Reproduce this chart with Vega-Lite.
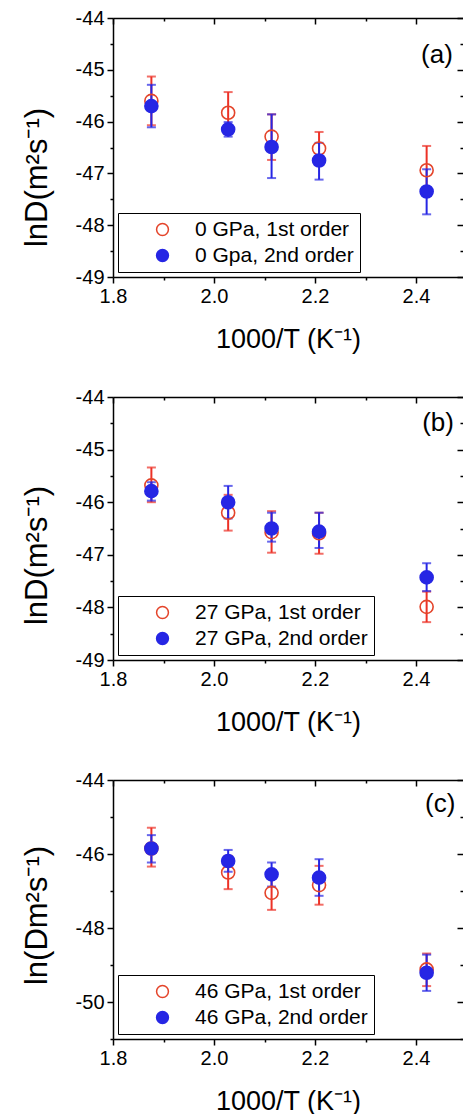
{
  "$schema": "https://vega.github.io/schema/vega-lite/v6.json",
  "background": "white",
  "padding": {"left": 21, "top": 8, "right": 0, "bottom": 0},
  "spacing": 35,
  "config": {
    "font": "Liberation Sans",
    "view": {"stroke": null},
    "axis": {"grid": false, "domainColor": "black", "tickColor": "black", "labelColor": "black", "titleColor": "black", "domainWidth": 1.5, "tickWidth": 1.5, "labelFont": "Liberation Sans", "titleFont": "Liberation Sans", "titleFontWeight": "normal", "labelFlush": false, "labelOverlap": false},
    "legend": {"labelFont": "Liberation Sans", "labelLimit": 400}
  },
  "datasets": {
    "a": [
      {"x": 1.876, "y": -45.60, "lo": -46.07, "hi": -45.13, "series": "0 GPa, 1st order"},
      {"x": 2.028, "y": -45.83, "lo": -46.24, "hi": -45.43, "series": "0 GPa, 1st order"},
      {"x": 2.114, "y": -46.29, "lo": -46.74, "hi": -45.86, "series": "0 GPa, 1st order"},
      {"x": 2.208, "y": -46.52, "lo": -46.84, "hi": -46.20, "series": "0 GPa, 1st order"},
      {"x": 2.421, "y": -46.94, "lo": -47.41, "hi": -46.47, "series": "0 GPa, 1st order"},
      {"x": 1.876, "y": -45.70, "lo": -46.11, "hi": -45.29, "series": "0 Gpa, 2nd order"},
      {"x": 2.028, "y": -46.15, "lo": -46.29, "hi": -46.01, "series": "0 Gpa, 2nd order"},
      {"x": 2.114, "y": -46.49, "lo": -47.09, "hi": -45.86, "series": "0 Gpa, 2nd order"},
      {"x": 2.208, "y": -46.75, "lo": -47.12, "hi": -46.41, "series": "0 Gpa, 2nd order"},
      {"x": 2.421, "y": -47.35, "lo": -47.79, "hi": -46.92, "series": "0 Gpa, 2nd order"}
    ],
    "b": [
      {"x": 1.876, "y": -45.68, "lo": -46.00, "hi": -45.34, "series": "27 GPa, 1st order"},
      {"x": 2.028, "y": -46.20, "lo": -46.54, "hi": -45.86, "series": "27 GPa, 1st order"},
      {"x": 2.114, "y": -46.57, "lo": -46.96, "hi": -46.17, "series": "27 GPa, 1st order"},
      {"x": 2.208, "y": -46.59, "lo": -46.98, "hi": -46.20, "series": "27 GPa, 1st order"},
      {"x": 2.421, "y": -47.99, "lo": -48.28, "hi": -47.70, "series": "27 GPa, 1st order"},
      {"x": 1.876, "y": -45.79, "lo": -45.97, "hi": -45.62, "series": "27 GPa, 2nd order"},
      {"x": 2.028, "y": -46.00, "lo": -46.31, "hi": -45.69, "series": "27 GPa, 2nd order"},
      {"x": 2.114, "y": -46.50, "lo": -46.75, "hi": -46.20, "series": "27 GPa, 2nd order"},
      {"x": 2.208, "y": -46.56, "lo": -46.87, "hi": -46.20, "series": "27 GPa, 2nd order"},
      {"x": 2.421, "y": -47.43, "lo": -47.69, "hi": -47.16, "series": "27 GPa, 2nd order"}
    ],
    "c": [
      {"x": 1.876, "y": -45.85, "lo": -46.34, "hi": -45.29, "series": "46 GPa, 1st order"},
      {"x": 2.028, "y": -46.50, "lo": -46.95, "hi": -46.05, "series": "46 GPa, 1st order"},
      {"x": 2.114, "y": -47.05, "lo": -47.51, "hi": -46.59, "series": "46 GPa, 1st order"},
      {"x": 2.208, "y": -46.84, "lo": -47.37, "hi": -46.32, "series": "46 GPa, 1st order"},
      {"x": 2.421, "y": -49.12, "lo": -49.57, "hi": -48.69, "series": "46 GPa, 1st order"},
      {"x": 1.876, "y": -45.85, "lo": -46.23, "hi": -45.49, "series": "46 GPa, 2nd order"},
      {"x": 2.028, "y": -46.19, "lo": -46.48, "hi": -45.89, "series": "46 GPa, 2nd order"},
      {"x": 2.114, "y": -46.55, "lo": -46.88, "hi": -46.23, "series": "46 GPa, 2nd order"},
      {"x": 2.208, "y": -46.64, "lo": -47.13, "hi": -46.14, "series": "46 GPa, 2nd order"},
      {"x": 2.421, "y": -49.21, "lo": -49.70, "hi": -48.72, "series": "46 GPa, 2nd order"}
    ],
    "one": [{}]
  },
  "resolve": {
    "scale": {"x": "independent", "y": "independent", "fill": "independent", "stroke": "independent"},
    "legend": {"fill": "independent", "stroke": "independent"}
  },
  "vconcat": [
    {
      "width": 350, "height": 259,
      "data": {"name": "a"},
      "resolve": {"axis": {"x": "independent", "y": "independent"}},
      "layer": [
        {
          "transform": [{"filter": "indexof(datum.series, '1st') >= 0"}],
          "mark": {"type": "errorbar", "ticks": {"size": 9}, "thickness": 2, "color": "#ec3126"},
          "encoding": {
            "x": {"field": "x", "type": "quantitative", "scale": {"domain": [1.8, 2.493], "nice": false, "zero": false},
              "axis": {"orient": "bottom", "values": [1.8, 1.9, 2.0, 2.1, 2.2, 2.3, 2.4], "labelExpr": "round(datum.value*10)%2==0 ? format(datum.value,'.1f') : ''", "tickSize": {"condition": {"test": "round(datum.value*10)%2==0", "value": 6}, "value": 3}, "labelFontSize": 20, "labelPadding": 3, "title": "1000/T (K⁻¹)", "titleFontSize": 27, "titlePadding": 20}},
            "y": {"field": "lo", "type": "quantitative", "scale": {"domain": [-49, -44], "nice": false, "zero": false},
              "axis": {"orient": "left", "values": [-49, -48.5, -48, -47.5, -47, -46.5, -46, -45.5, -45, -44.5, -44], "labelExpr": "datum.value % 1 == 0 ? '' + datum.value : ''", "tickSize": {"condition": {"test": "datum.value % 1 == 0", "value": 6}, "value": 3}, "labelFontSize": 20, "labelPadding": 3, "title": "lnD(m²s⁻¹)", "titleFontSize": 31, "titlePadding": 22, "titleY": 159}},
            "y2": {"field": "hi"}
          }
        },
        {
          "transform": [{"filter": "indexof(datum.series, '2nd') >= 0"}],
          "mark": {"type": "errorbar", "ticks": {"size": 9}, "thickness": 2, "color": "#2626e4"},
          "encoding": {
            "x": {"field": "x", "type": "quantitative", "scale": {"domain": [1.8, 2.493], "nice": false, "zero": false}, "axis": null},
            "y": {"field": "lo", "type": "quantitative", "scale": {"domain": [-49, -44], "nice": false, "zero": false}, "axis": null},
            "y2": {"field": "hi"}
          }
        },
        {
          "mark": {"type": "point", "shape": "circle", "size": 170, "strokeWidth": 1.6, "opacity": 1},
          "encoding": {
            "x": {"field": "x", "type": "quantitative", "scale": {"domain": [1.8, 2.493], "nice": false, "zero": false},
              "axis": {"orient": "top", "values": [1.8, 1.9, 2.0, 2.1, 2.2, 2.3, 2.4], "labels": false, "title": null, "tickSize": {"condition": {"test": "round(datum.value*10)%2==0", "value": -6}, "value": -3}}},
            "y": {"field": "y", "type": "quantitative", "scale": {"domain": [-49, -44], "nice": false, "zero": false},
              "axis": {"orient": "right", "values": [-49, -48.5, -48, -47.5, -47, -46.5, -46, -45.5, -45, -44.5, -44], "labels": false, "title": null, "domain": false, "tickSize": {"condition": {"test": "datum.value % 1 == 0", "value": -6}, "value": -3}}},
            "fill": {"field": "series", "type": "nominal", "scale": {"domain": ["0 GPa, 1st order", "0 Gpa, 2nd order"], "range": ["transparent", "#2626e4"]},
              "legend": {"title": null, "orient": "bottom-left", "offset": 5, "strokeColor": "black", "fillColor": "white", "padding": 6, "symbolOffset": 28, "labelOffset": 22, "labelFontSize": 21, "labelColor": "black", "symbolSize": 140, "rowPadding": 4, "symbolStrokeWidth": 1.5, "labelLimit": 400}},
            "stroke": {"field": "series", "type": "nominal", "scale": {"domain": ["0 GPa, 1st order", "0 Gpa, 2nd order"], "range": ["#e4442a", "#2626e4"]},
              "legend": {"title": null, "orient": "bottom-left", "offset": 5, "strokeColor": "black", "fillColor": "white", "padding": 6, "symbolOffset": 28, "labelOffset": 22, "labelFontSize": 21, "labelColor": "black", "symbolSize": 140, "rowPadding": 4, "symbolStrokeWidth": 1.5, "labelLimit": 400}}
          }
        },
        {
          "data": {"name": "one"},
          "mark": {"type": "text", "text": "(a)", "align": "right", "baseline": "middle", "fontSize": 26, "fontWeight": "normal", "color": "black"},
          "encoding": {
            "x": {"datum": 2.473, "type": "quantitative", "axis": null},
            "y": {"datum": -44.71, "type": "quantitative", "axis": null}
          }
        }
      ]
    },
    {
      "width": 350, "height": 263,
      "data": {"name": "b"},
      "resolve": {"axis": {"x": "independent", "y": "independent"}},
      "layer": [
        {
          "transform": [{"filter": "indexof(datum.series, '1st') >= 0"}],
          "mark": {"type": "errorbar", "ticks": {"size": 9}, "thickness": 2, "color": "#ec3126"},
          "encoding": {
            "x": {"field": "x", "type": "quantitative", "scale": {"domain": [1.8, 2.493], "nice": false, "zero": false},
              "axis": {"orient": "bottom", "values": [1.8, 1.9, 2.0, 2.1, 2.2, 2.3, 2.4], "labelExpr": "round(datum.value*10)%2==0 ? format(datum.value,'.1f') : ''", "tickSize": {"condition": {"test": "round(datum.value*10)%2==0", "value": 6}, "value": 3}, "labelFontSize": 20, "labelPadding": 3, "title": "1000/T (K⁻¹)", "titleFontSize": 27, "titlePadding": 20}},
            "y": {"field": "lo", "type": "quantitative", "scale": {"domain": [-49, -44], "nice": false, "zero": false},
              "axis": {"orient": "left", "values": [-49, -48.5, -48, -47.5, -47, -46.5, -46, -45.5, -45, -44.5, -44], "labelExpr": "datum.value % 1 == 0 ? '' + datum.value : ''", "tickSize": {"condition": {"test": "datum.value % 1 == 0", "value": 6}, "value": 3}, "labelFontSize": 20, "labelPadding": 3, "title": "lnD(m²s⁻¹)", "titleFontSize": 31, "titlePadding": 22, "titleY": 158}},
            "y2": {"field": "hi"}
          }
        },
        {
          "transform": [{"filter": "indexof(datum.series, '2nd') >= 0"}],
          "mark": {"type": "errorbar", "ticks": {"size": 9}, "thickness": 2, "color": "#2626e4"},
          "encoding": {
            "x": {"field": "x", "type": "quantitative", "scale": {"domain": [1.8, 2.493], "nice": false, "zero": false}, "axis": null},
            "y": {"field": "lo", "type": "quantitative", "scale": {"domain": [-49, -44], "nice": false, "zero": false}, "axis": null},
            "y2": {"field": "hi"}
          }
        },
        {
          "mark": {"type": "point", "shape": "circle", "size": 170, "strokeWidth": 1.6, "opacity": 1},
          "encoding": {
            "x": {"field": "x", "type": "quantitative", "scale": {"domain": [1.8, 2.493], "nice": false, "zero": false},
              "axis": {"orient": "top", "values": [1.8, 1.9, 2.0, 2.1, 2.2, 2.3, 2.4], "labels": false, "title": null, "tickSize": {"condition": {"test": "round(datum.value*10)%2==0", "value": -6}, "value": -3}}},
            "y": {"field": "y", "type": "quantitative", "scale": {"domain": [-49, -44], "nice": false, "zero": false},
              "axis": {"orient": "right", "values": [-49, -48.5, -48, -47.5, -47, -46.5, -46, -45.5, -45, -44.5, -44], "labels": false, "title": null, "domain": false, "tickSize": {"condition": {"test": "datum.value % 1 == 0", "value": -6}, "value": -3}}},
            "fill": {"field": "series", "type": "nominal", "scale": {"domain": ["27 GPa, 1st order", "27 GPa, 2nd order"], "range": ["transparent", "#2626e4"]},
              "legend": {"title": null, "orient": "bottom-left", "offset": 5, "strokeColor": "black", "fillColor": "white", "padding": 6, "symbolOffset": 28, "labelOffset": 22, "labelFontSize": 21, "labelColor": "black", "symbolSize": 140, "rowPadding": 4, "symbolStrokeWidth": 1.5, "labelLimit": 400}},
            "stroke": {"field": "series", "type": "nominal", "scale": {"domain": ["27 GPa, 1st order", "27 GPa, 2nd order"], "range": ["#e4442a", "#2626e4"]},
              "legend": {"title": null, "orient": "bottom-left", "offset": 5, "strokeColor": "black", "fillColor": "white", "padding": 6, "symbolOffset": 28, "labelOffset": 22, "labelFontSize": 21, "labelColor": "black", "symbolSize": 140, "rowPadding": 4, "symbolStrokeWidth": 1.5, "labelLimit": 400}}
          }
        },
        {
          "data": {"name": "one"},
          "mark": {"type": "text", "text": "(b)", "align": "right", "baseline": "middle", "fontSize": 26, "fontWeight": "normal", "color": "black"},
          "encoding": {
            "x": {"datum": 2.475, "type": "quantitative", "axis": null},
            "y": {"datum": -44.49, "type": "quantitative", "axis": null}
          }
        }
      ]
    },
    {
      "width": 350, "height": 259,
      "data": {"name": "c"},
      "resolve": {"axis": {"x": "independent", "y": "independent"}},
      "layer": [
        {
          "transform": [{"filter": "indexof(datum.series, '1st') >= 0"}],
          "mark": {"type": "errorbar", "ticks": {"size": 9}, "thickness": 2, "color": "#ec3126"},
          "encoding": {
            "x": {"field": "x", "type": "quantitative", "scale": {"domain": [1.8, 2.493], "nice": false, "zero": false},
              "axis": {"orient": "bottom", "values": [1.8, 1.9, 2.0, 2.1, 2.2, 2.3, 2.4], "labelExpr": "round(datum.value*10)%2==0 ? format(datum.value,'.1f') : ''", "tickSize": {"condition": {"test": "round(datum.value*10)%2==0", "value": 6}, "value": 3}, "labelFontSize": 20, "labelPadding": 3, "title": "1000/T (K⁻¹)", "titleFontSize": 27, "titlePadding": 20}},
            "y": {"field": "lo", "type": "quantitative", "scale": {"domain": [-51, -44], "nice": false, "zero": false},
              "axis": {"orient": "left", "values": [-51, -50, -49, -48, -47, -46, -45, -44], "labelExpr": "datum.value % 2 == 0 ? '' + datum.value : ''", "tickSize": {"condition": {"test": "datum.value % 2 == 0", "value": 6}, "value": 3}, "labelFontSize": 20, "labelPadding": 3, "title": "ln(Dm²s⁻¹)", "titleFontSize": 31, "titlePadding": 22, "titleY": 135}},
            "y2": {"field": "hi"}
          }
        },
        {
          "transform": [{"filter": "indexof(datum.series, '2nd') >= 0"}],
          "mark": {"type": "errorbar", "ticks": {"size": 9}, "thickness": 2, "color": "#2626e4"},
          "encoding": {
            "x": {"field": "x", "type": "quantitative", "scale": {"domain": [1.8, 2.493], "nice": false, "zero": false}, "axis": null},
            "y": {"field": "lo", "type": "quantitative", "scale": {"domain": [-51, -44], "nice": false, "zero": false}, "axis": null},
            "y2": {"field": "hi"}
          }
        },
        {
          "mark": {"type": "point", "shape": "circle", "size": 170, "strokeWidth": 1.6, "opacity": 1},
          "encoding": {
            "x": {"field": "x", "type": "quantitative", "scale": {"domain": [1.8, 2.493], "nice": false, "zero": false},
              "axis": {"orient": "top", "values": [1.8, 1.9, 2.0, 2.1, 2.2, 2.3, 2.4], "labels": false, "title": null, "tickSize": {"condition": {"test": "round(datum.value*10)%2==0", "value": -6}, "value": -3}}},
            "y": {"field": "y", "type": "quantitative", "scale": {"domain": [-51, -44], "nice": false, "zero": false},
              "axis": {"orient": "right", "values": [-51, -50, -49, -48, -47, -46, -45, -44], "labels": false, "title": null, "domain": false, "tickSize": {"condition": {"test": "datum.value % 2 == 0", "value": -6}, "value": -3}}},
            "fill": {"field": "series", "type": "nominal", "scale": {"domain": ["46 GPa, 1st order", "46 GPa, 2nd order"], "range": ["transparent", "#2626e4"]},
              "legend": {"title": null, "orient": "bottom-left", "offset": 5, "strokeColor": "black", "fillColor": "white", "padding": 6, "symbolOffset": 28, "labelOffset": 22, "labelFontSize": 21, "labelColor": "black", "symbolSize": 140, "rowPadding": 4, "symbolStrokeWidth": 1.5, "labelLimit": 400}},
            "stroke": {"field": "series", "type": "nominal", "scale": {"domain": ["46 GPa, 1st order", "46 GPa, 2nd order"], "range": ["#e4442a", "#2626e4"]},
              "legend": {"title": null, "orient": "bottom-left", "offset": 5, "strokeColor": "black", "fillColor": "white", "padding": 6, "symbolOffset": 28, "labelOffset": 22, "labelFontSize": 21, "labelColor": "black", "symbolSize": 140, "rowPadding": 4, "symbolStrokeWidth": 1.5, "labelLimit": 400}}
          }
        },
        {
          "data": {"name": "one"},
          "mark": {"type": "text", "text": "(c)", "align": "right", "baseline": "middle", "fontSize": 26, "fontWeight": "normal", "color": "black"},
          "encoding": {
            "x": {"datum": 2.478, "type": "quantitative", "axis": null},
            "y": {"datum": -44.65, "type": "quantitative", "axis": null}
          }
        }
      ]
    }
  ]
}
